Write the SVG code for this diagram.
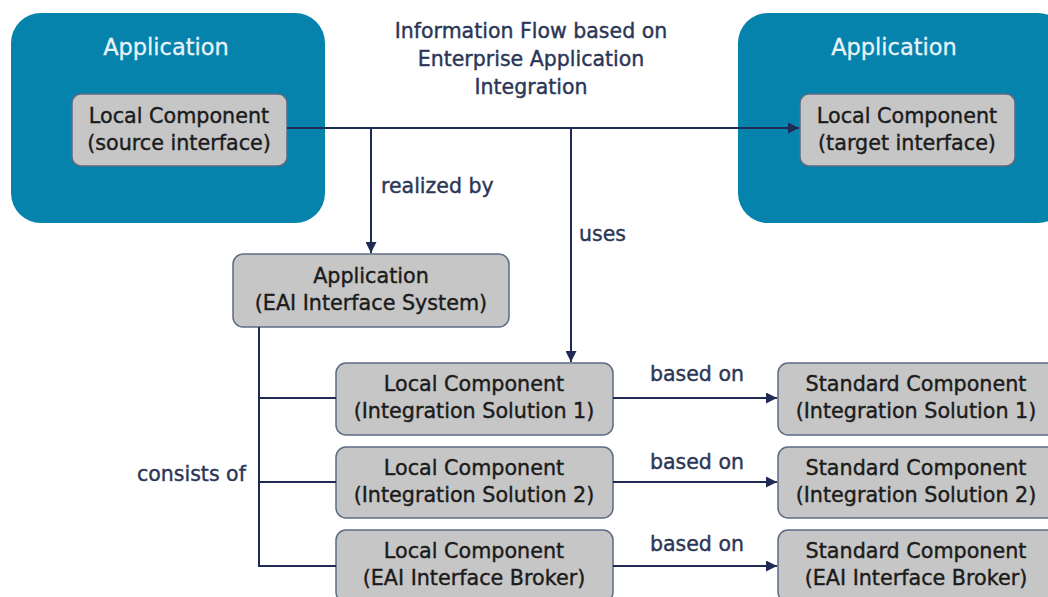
<svg xmlns="http://www.w3.org/2000/svg" width="1048" height="597" viewBox="0 0 1048 597">
<defs>
<style>
.app{fill:#0583ac;}
.box{fill:#c6c6c6;stroke:#5c6b82;stroke-width:1.5;}
.t{font-family:"DejaVu Sans",sans-serif;font-size:20.7px;text-anchor:middle;fill:#1b1b1b;stroke:#1b1b1b;stroke-width:0.4;}
.w{font-family:"DejaVu Sans",sans-serif;font-size:22.5px;text-anchor:middle;fill:#e8f4fa;stroke:#e8f4fa;stroke-width:0.3;}
.l{font-family:"DejaVu Sans",sans-serif;font-size:20.5px;fill:#2b3656;stroke:#2b3656;stroke-width:0.4;}
.c{fill:none;stroke:#1f2b52;stroke-width:2;}
</style>
<marker id="ar" viewBox="0 0 10 10" refX="10" refY="5" markerWidth="11" markerHeight="11" markerUnits="userSpaceOnUse" orient="auto"><path d="M0,0 L10,5 L0,10 z" fill="#1f2b52"/></marker>
</defs>
<g id="title"><text class="l" x="531" y="38" text-anchor="middle">Information Flow based on</text><text class="l" x="531" y="66" text-anchor="middle">Enterprise Application</text><text class="l" x="531" y="94" text-anchor="middle">Integration</text></g>
<g id="app-left"><rect class="app" x="11" y="13" width="314" height="210" rx="30"/><text class="w" x="166" y="55">Application</text></g>
<g id="app-right"><rect class="app" x="738" y="13" width="330" height="210" rx="30"/><text class="w" x="894" y="55">Application</text></g>
<g id="src"><rect class="box" x="72" y="94" width="215" height="72" rx="9"/><text class="t" x="179" y="123">Local Component</text><text class="t" x="179" y="150">(source interface)</text></g>
<g id="tgt"><rect class="box" x="800" y="94" width="215" height="72" rx="9"/><text class="t" x="907" y="123">Local Component</text><text class="t" x="907" y="150">(target interface)</text></g>
<g id="eai"><rect class="box" x="233" y="254" width="276" height="73" rx="10"/><text class="t" x="371" y="283">Application</text><text class="t" x="371" y="310">(EAI Interface System)</text></g>
<g id="lc1"><rect class="box" x="336" y="363" width="277" height="72" rx="10"/><text class="t" x="474" y="391">Local Component</text><text class="t" x="474" y="418">(Integration Solution 1)</text></g>
<g id="lc2"><rect class="box" x="336" y="447" width="277" height="71" rx="10"/><text class="t" x="474" y="475">Local Component</text><text class="t" x="474" y="502">(Integration Solution 2)</text></g>
<g id="lc3"><rect class="box" x="336" y="530" width="277" height="72" rx="10"/><text class="t" x="474" y="558">Local Component</text><text class="t" x="474" y="585">(EAI Interface Broker)</text></g>
<g id="sc1"><rect class="box" x="778" y="363" width="280" height="72" rx="10"/><text class="t" x="916" y="391">Standard Component</text><text class="t" x="916" y="418">(Integration Solution 1)</text></g>
<g id="sc2"><rect class="box" x="778" y="447" width="280" height="71" rx="10"/><text class="t" x="916" y="475">Standard Component</text><text class="t" x="916" y="502">(Integration Solution 2)</text></g>
<g id="sc3"><rect class="box" x="778" y="530" width="280" height="72" rx="10"/><text class="t" x="916" y="558">Standard Component</text><text class="t" x="916" y="585">(EAI Interface Broker)</text></g>
<g id="connectors">
<path class="c" d="M287,128 H799" marker-end="url(#ar)"/>
<path class="c" d="M371,128 V253" marker-end="url(#ar)"/>
<path class="c" d="M571,128 V362" marker-end="url(#ar)"/>
<path class="c" d="M259,327 V566 H336 M259,398 H336 M259,482 H336"/>
<path class="c" d="M613,398 H777" marker-end="url(#ar)"/>
<path class="c" d="M613,482 H777" marker-end="url(#ar)"/>
<path class="c" d="M613,566 H777" marker-end="url(#ar)"/>
<text class="l" x="381" y="193">realized by</text>
<text class="l" x="579" y="241">uses</text>
<text class="l" x="137" y="481">consists of</text>
<text class="l" x="650" y="381">based on</text>
<text class="l" x="650" y="469">based on</text>
<text class="l" x="650" y="551">based on</text>
</g>
</svg>
